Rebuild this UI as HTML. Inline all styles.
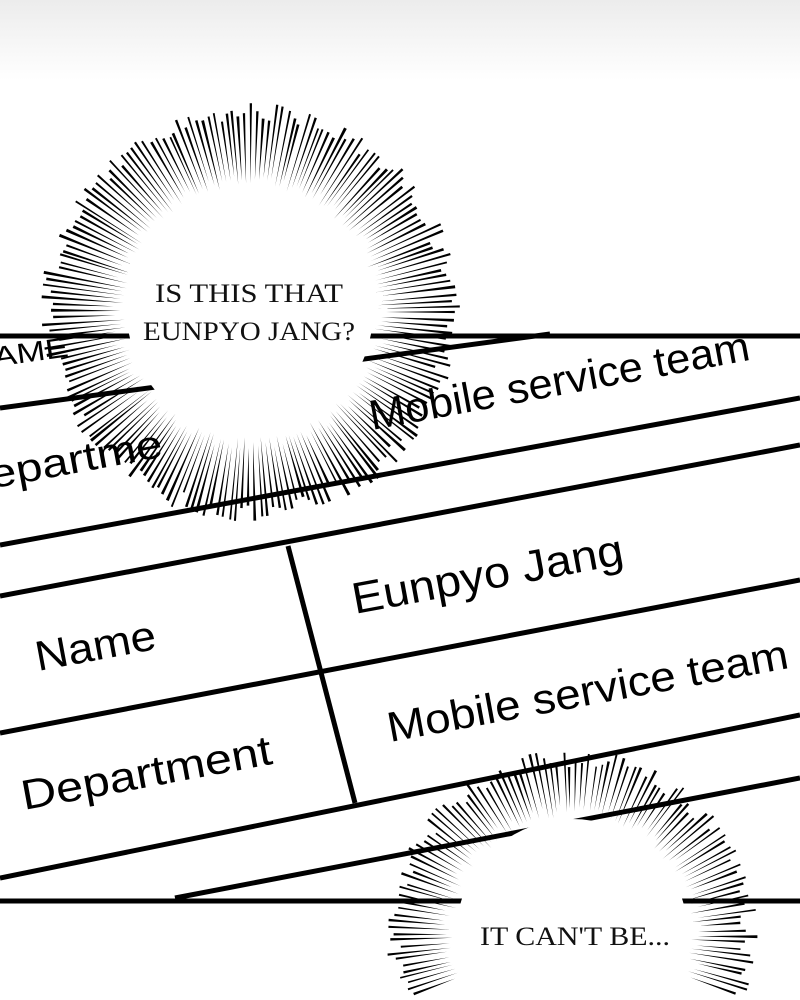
<!DOCTYPE html>
<html><head><meta charset="utf-8"><style>
html,body{margin:0;padding:0;background:#fff;overflow:hidden;width:800px;height:1000px}
#wrap{width:800px;height:1000px;overflow:hidden;position:relative}
svg{display:block;overflow:hidden}
.s{font-family:"Liberation Sans",sans-serif;fill:#000}
.r{font-family:"Liberation Serif",serif;fill:#111;font-size:26px}
</style></head><body><div id="wrap">
<svg id="sv" width="800" height="1000" viewBox="0 0 800 1000" xmlns="http://www.w3.org/2000/svg">
<defs><linearGradient id="g" x1="0" y1="0" x2="0" y2="1"><stop offset="0" stop-color="#ececec"/><stop offset="1" stop-color="#fff"/></linearGradient>
<clipPath id="cp"><rect x="0" y="0" width="800" height="998"/></clipPath></defs>
<rect width="800" height="1000" fill="#fff"/>
<rect width="800" height="80" fill="url(#g)"/>
<g stroke="#000" stroke-width="5" fill="none">
<line x1="0" y1="336" x2="800" y2="336"/>
<line x1="0" y1="901" x2="800" y2="901"/>
<line x1="0" y1="408" x2="550" y2="334"/>
<line x1="0" y1="545" x2="800" y2="398"/>
<line x1="0" y1="596" x2="800" y2="445"/>
<line x1="0" y1="733" x2="800" y2="580"/>
<line x1="0" y1="878" x2="800" y2="715"/>
<line x1="175" y1="898" x2="800" y2="778"/>
<line x1="288" y1="546" x2="355" y2="803"/>
</g>
<g class="s">
<text x="-5" y="366" font-size="28" textLength="75" lengthAdjust="spacingAndGlyphs" transform="rotate(-8 0 366)">AME</text>
<text x="-8" y="487" font-size="40" textLength="175" lengthAdjust="spacingAndGlyphs" transform="rotate(-10.5 0 487)">epartme</text>
<text x="372" y="430" font-size="42" textLength="386" lengthAdjust="spacingAndGlyphs" transform="rotate(-10.5 372 430)">Mobile service team</text>
<text x="355" y="614" font-size="44" textLength="275" lengthAdjust="spacingAndGlyphs" transform="rotate(-10.5 355 614)">Eunpyo Jang</text>
<text x="38" y="671" font-size="42" textLength="122" lengthAdjust="spacingAndGlyphs" transform="rotate(-10.5 38 671)">Name</text>
<text x="24" y="810" font-size="42" textLength="254" lengthAdjust="spacingAndGlyphs" transform="rotate(-10.5 24 810)">Department</text>
<text x="390" y="742" font-size="42" textLength="407" lengthAdjust="spacingAndGlyphs" transform="rotate(-10.5 390 742)">Mobile service team</text>
</g>
<g clip-path="url(#cp)"><g id="b1"></g><g id="b2"></g></g>
<text class="r" x="249" y="302" text-anchor="middle" textLength="188" lengthAdjust="spacingAndGlyphs">IS THIS THAT</text>
<text class="r" x="249" y="340" text-anchor="middle" textLength="212" lengthAdjust="spacingAndGlyphs">EUNPYO JANG?</text>
<text class="r" x="575" y="945" text-anchor="middle" textLength="190" lengthAdjust="spacingAndGlyphs">IT CAN'T BE...</text>
</svg>
</div>
<script>
(function(){
var seed=7;function rnd(){seed=(seed*16807)%2147483647;return seed/2147483647;}
function burst(id,cx,cy,rin,rout,n){
 var g=document.getElementById(id),ns="http://www.w3.org/2000/svg";
 var pts=[];
 for(var k=0;k<72;k++){var t=k/72*Math.PI*2;var px=cx+Math.cos(t)*(rin-2),py=cy+Math.sin(t)*(rin-2);if(py>998)py=998;pts.push(px.toFixed(1)+","+py.toFixed(1));}
 var c=document.createElementNS(ns,"polygon");c.setAttribute("points",pts.join(" "));c.setAttribute("fill","#fff");g.appendChild(c);
 var d="";
 for(var i=0;i<n;i++){
  var a=(i+rnd()*0.4)/n*Math.PI*2;
  var r1=rin+rnd()*12, r2=rout-rnd()*18;
  var w=0.0045+rnd()*0.003;
  var x1=cx+Math.cos(a)*r1,y1=cy+Math.sin(a)*r1;
  var xa=cx+Math.cos(a-w)*r2,ya=cy+Math.sin(a-w)*r2;
  var xb=cx+Math.cos(a+w)*r2,yb=cy+Math.sin(a+w)*r2;
  if(Math.max(y1,ya,yb)>998) continue;
  d+="M"+x1.toFixed(1)+" "+y1.toFixed(1)+"L"+xa.toFixed(1)+" "+ya.toFixed(1)+"L"+xb.toFixed(1)+" "+yb.toFixed(1)+"Z";
 }
 var p=document.createElementNS(ns,"path");p.setAttribute("d",d);p.setAttribute("fill","#000");g.appendChild(p);
}
burst("b1",250,312,125,210,200);
burst("b2",572,935,118,186,170);
})();
</script>
</body></html>
